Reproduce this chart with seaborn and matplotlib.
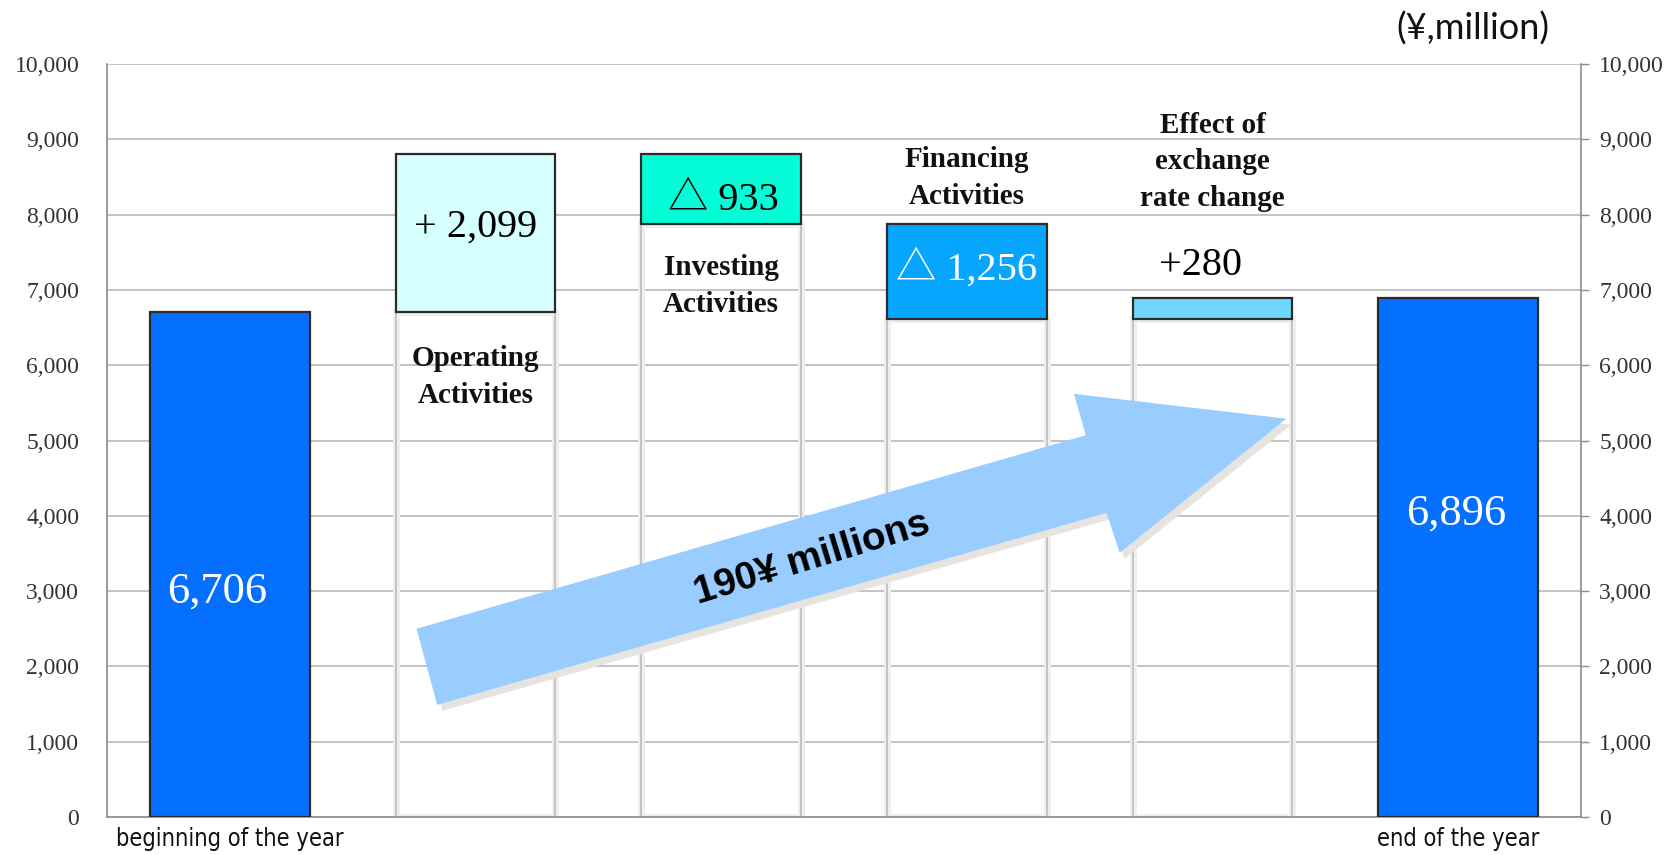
import numpy as np
import pandas as pd
import matplotlib
matplotlib.use("Agg")
import matplotlib.pyplot as plt
import matplotlib.patheffects as pe
import matplotlib.transforms as mtransforms
from matplotlib.patches import Polygon
from matplotlib import font_manager
import seaborn as sns

# cash flow waterfall (¥ million)
items = ['beginning of the year', 'Operating Activities', 'Investing Activities',
         'Financing Activities', 'Effect of exchange rate change', 'end of the year']
changes = [6706, 2099, -933, -1256, 280, 6896]
value_labels = ['6,706', '+ 2,099', '△ 933', '△ 1,256', '+280', '6,896']
item_labels = ['', 'Operating\nActivities', 'Investing\nActivities',
               'Financing\nActivities', 'Effect of\nexchange\nrate change', '']
bar_colors = ['#0570ff', '#d6ffff', '#03fdd6', '#06a6ff', '#6fd7ff', '#0570ff']
yticks = list(range(0, 10001, 1000))
arrow_text = '190¥ millions'
unit_text = '(¥,million)'

# floating boxes: low end + height
lows, heights = [0], [changes[0]]
running = changes[0]
for c in changes[1:-1]:
    new = running + c
    lows.append(min(running, new))
    heights.append(abs(c))
    running = new
lows.append(0)
heights.append(changes[-1])
base = [np.nan] + lows[1:-1] + [np.nan]

df = pd.DataFrame({'item': items, 'low': lows, 'height': heights, 'base': base})

sns.set_theme(style='white')
plt.rcParams['font.family'] = ['Liberation Serif', 'Noto Sans CJK JP', 'DejaVu Sans']

names = {f.name for f in font_manager.fontManager.ttflist}
narrow = 'Liberation Sans Narrow' if 'Liberation Sans Narrow' in names else 'DejaVu Sans'

fig = plt.figure(figsize=(16.8, 8.55), dpi=100)
ax = fig.add_axes([0.0637, 0.0444, 0.8774, 0.8807])
ax.set_axisbelow(True)

# invisible base columns with shadowed edges
n0 = len(ax.patches)
sns.barplot(data=df, x='item', y='base', order=items, color='white', width=0.65, ax=ax)
for p in ax.patches[n0:]:
    p.set_facecolor('none')
    p.set_edgecolor('#bdbdbd')
    p.set_linewidth(1.2)
    p.set_path_effects([pe.Stroke(linewidth=5, foreground='#efefef'), pe.Normal()])
    p.set_zorder(1)

# coloured boxes
n1 = len(ax.patches)
sns.barplot(data=df, x='item', y='height', hue='item', order=items, hue_order=items,
            palette=bar_colors, saturation=1, width=0.65, legend=False,
            edgecolor='#2b2b2b', linewidth=1.6, ax=ax)
for p, lo in zip(ax.patches[n1:], df['low']):
    p.set_y(lo)
    p.set_zorder(3)

ax.set_xlim(-0.5, 5.5)
ax.set_ylim(0, 10000)
ax.set_yticks(yticks)
ax.set_yticklabels([f'{v:,}' for v in yticks])
ax.yaxis.grid(True, color='#b9b9b9', lw=1.2)
ax.set_xlabel('')
ax.set_ylabel('')

ax.set_xticks(range(len(items)))
ax.set_xticklabels([items[0], '', '', '', '', items[-1]], family=narrow,
                   fontstretch='condensed', fontsize=17, color='#111111')
ax.set_xticks(np.arange(-0.5, len(items), 1), minor=True)
ax.tick_params(axis='x', which='major', direction='in', length=5, width=1,
               color='#8c8c8c', pad=7)
ax.tick_params(axis='x', which='minor', direction='inout', length=11, width=1,
               color='#8c8c8c')
ax.tick_params(axis='y', length=0, pad=20, labelsize=17, labelcolor='#333333')

for s in ['left', 'bottom']:
    ax.spines[s].set_color('#8c8c8c')
    ax.spines[s].set_linewidth(1.2)
ax.spines['top'].set_visible(False)
ax.spines['right'].set_visible(False)

ax2 = ax.twinx()
ax2.set_ylim(ax.get_ylim())
ax2.set_yticks(yticks)
ax2.set_yticklabels([f'{v:,}' for v in yticks])
ax2.tick_params(axis='y', direction='out', length=6, width=1, color='#8c8c8c',
                pad=7, labelsize=17, labelcolor='#333333')
ax2.grid(False)
for s in ['left', 'top', 'bottom']:
    ax2.spines[s].set_visible(False)
ax2.spines['right'].set_color('#8c8c8c')
ax2.spines['right'].set_linewidth(1.2)

# value labels
value_x = [-0.05, 0, 0.01, 0.0, -0.05, -0.01]
value_y = [3000, 7830, 8190, 7280, 7320, 4030]
value_col = ['white', 'black', 'black', 'white', 'black', 'white']
value_size = [32, 29, 29, 29, 29, 32]
for i, (lab, yv) in enumerate(zip(value_labels, value_y)):
    ax.text(i + value_x[i], yv, lab, ha='center', va='center', fontsize=value_size[i],
            color=value_col[i], zorder=5)

# item labels
label_y = [0, 5843, 7050, 8486, 8700, 0]
for i, (lab, yv) in enumerate(zip(item_labels, label_y)):
    if lab:
        ax.text(i, yv, lab, ha='center', va='center', fontsize=21,
                fontweight='bold', linespacing=1.45, color='#111111', zorder=5)

# big arrow
arrow_pts = [(0.210, 0.250), (0.664, 0.507), (0.656, 0.562), (0.800, 0.529),
             (0.687, 0.351), (0.678, 0.404), (0.224, 0.149)]
shadow_tr = mtransforms.offset_copy(ax.transAxes, fig=fig, x=5, y=-6, units='dots')
ax.add_patch(Polygon(arrow_pts, closed=True, transform=shadow_tr,
                     facecolor='#e6e4de', edgecolor='none', zorder=6))
ax.add_patch(Polygon(arrow_pts, closed=True, transform=ax.transAxes,
                     facecolor='#99ccff', edgecolor='none', zorder=7))
ax.text(0.478, 0.343, arrow_text, transform=ax.transAxes, rotation=17,
        rotation_mode='anchor', ha='center', va='center', fontsize=28,
        fontweight='bold', family=['Liberation Sans', 'DejaVu Sans'],
        color='black', zorder=8)

fig.text(0.922, 0.967, unit_text, ha='right', va='center', fontsize=26,
         family=['Lato', 'DejaVu Sans'], color='#111111')

fig.savefig('out.png', dpi=100)
